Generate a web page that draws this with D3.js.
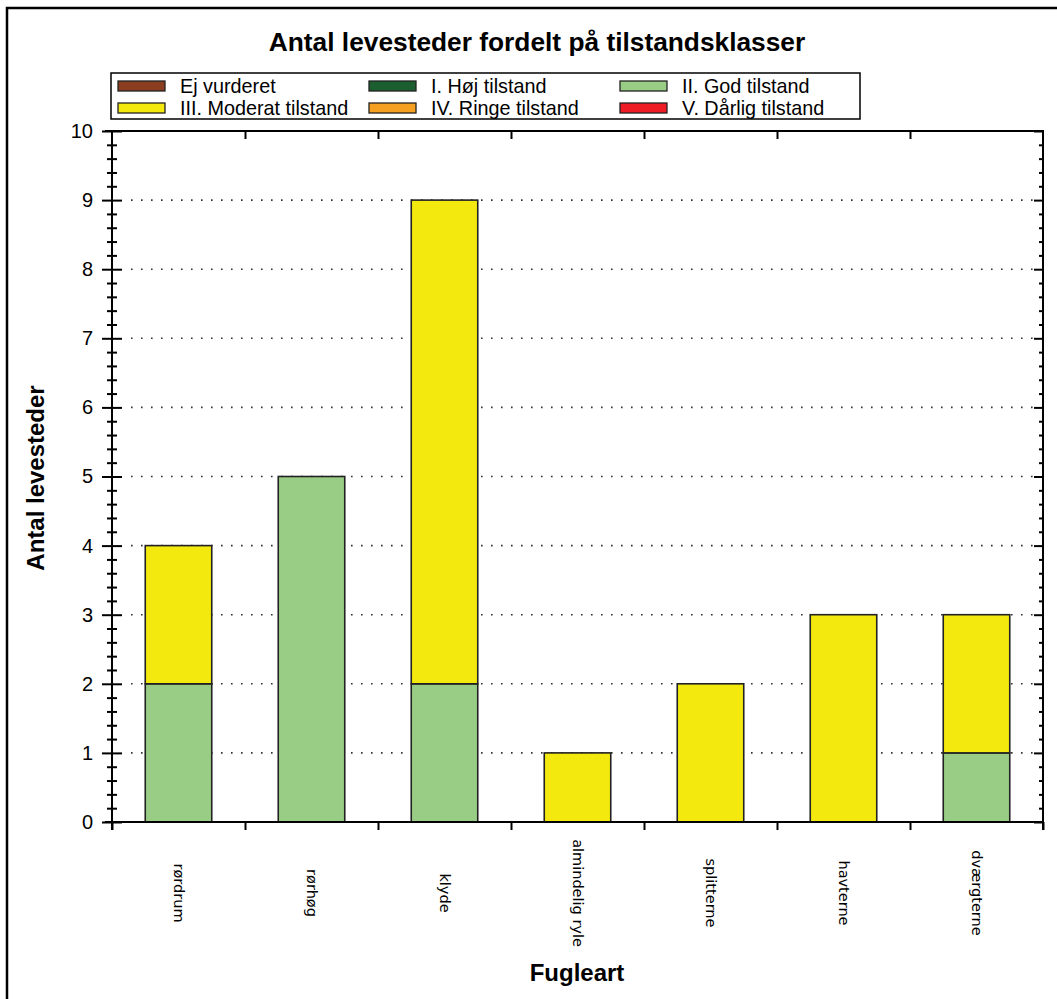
<!DOCTYPE html>
<html><head><meta charset="utf-8">
<script src="https://cdn.jsdelivr.net/npm/d3@7/dist/d3.min.js"></script>
<style>body{margin:0;background:#fff}svg{display:block}</style>
</head><body>
<svg id="c" width="1057" height="999"></svg>
<script>
const categories = ["rørdrum","rørhøg","klyde","almindelig ryle","splitterne","havterne","dværgterne"];
const seriesNames = ["Ej vurderet","I. Høj tilstand","II. God tilstand","III. Moderat tilstand","IV. Ringe tilstand","V. Dårlig tilstand"];
const ejVurderet = [0,0,0,0,0,0,0];
const hoejTilstand = [0,0,0,0,0,0,0];
const godTilstand = [2,5,2,0,0,0,1];
const moderatTilstand = [2,0,7,1,2,3,2];
const ringeTilstand = [0,0,0,0,0,0,0];
const daarligTilstand = [0,0,0,0,0,0,0];
const seriesColors = ["#8B3E1F","#1B5E30","#99CC85","#F3E90F","#F5A020","#EE1C25"];
const yTickValues = [0,1,2,3,4,5,6,7,8,9,10];
const chartTitle = "Antal levesteder fordelt på tilstandsklasser";
const xTitle = "Fugleart";
const yTitle = "Antal levesteder";

const seriesValues = [ejVurderet,hoejTilstand,godTilstand,moderatTilstand,ringeTilstand,daarligTilstand];
const rows = categories.map((c,i)=>{const r={cat:c}; seriesNames.forEach((s,j)=>r[s]=seriesValues[j][i]); return r;});

const L=112, R=1043, T=131, B=822;
const svg = d3.select("#c");
const FONT = "'Liberation Sans', Arial, sans-serif";

// outer border
svg.append("path").attr("d","M7,999 L7,8 L1057,8").attr("fill","none").attr("stroke","#000").attr("stroke-width",2.5);

// title
svg.append("text").attr("x",537).attr("y",51).attr("text-anchor","middle")
  .style("font-family",FONT).style("font-weight","bold").style("font-size","26.3px").text(chartTitle);

const x = d3.scaleBand().domain(categories).range([L,R]).paddingInner(0.5).paddingOuter(0.25);
const xb = d3.scaleLinear().domain([0,categories.length]).range([L,R]);
const y = d3.scaleLinear().domain([0,10]).range([B,T]);

// gridlines
svg.append("g").selectAll("line").data(yTickValues.filter(v=>v>0&&v<10)).join("line")
  .attr("x1",131).attr("x2",1036).attr("y1",d=>y(d)).attr("y2",d=>y(d))
  .attr("stroke","#333").attr("stroke-width",1.6).attr("stroke-dasharray","1.6 8.4");

// bars
const stack = d3.stack().keys(seriesNames)(rows);
svg.append("g").selectAll("g").data(stack).join("g")
  .attr("fill",(d,i)=>seriesColors[i])
  .selectAll("rect").data(d=>d.filter(p=>p[1]-p[0]>0)).join("rect")
  .attr("x",d=>x(d.data.cat)).attr("width",x.bandwidth())
  .attr("y",d=>y(d[1])).attr("height",d=>y(d[0])-y(d[1]))
  .attr("stroke","#222").attr("stroke-width",1.6);

// axes frame lines
const frame = svg.append("g").attr("stroke","#000").attr("stroke-width",2);
frame.append("line").attr("x1",105).attr("x2",R+1).attr("y1",T).attr("y2",T);
frame.append("line").attr("x1",105).attr("x2",R+1).attr("y1",B).attr("y2",B);
frame.append("line").attr("x1",L).attr("x2",L).attr("y1",T).attr("y2",B+8);
frame.append("line").attr("x1",R).attr("x2",R).attr("y1",T).attr("y2",B+8);

function styleAxis(g){ g.select(".domain").remove(); g.selectAll(".tick line").attr("stroke","#000").attr("stroke-width",2); }
const minorVals = d3.range(0,10.001,0.2).filter(v=>Math.abs(v-Math.round(v))>1e-6);

// left axis majors (crossing)
svg.append("g").attr("transform",`translate(${L},0)`)
  .call(d3.axisLeft(y).tickValues(yTickValues).tickSize(10).tickPadding(9).tickFormat(d3.format("d")))
  .call(styleAxis)
  .call(g=>g.selectAll("text").style("font-family",FONT).style("font-size","20px").attr("fill","#000"));
svg.append("g").attr("transform",`translate(${L},0)`)
  .call(d3.axisRight(y).tickValues(yTickValues).tickSize(10).tickFormat(""))
  .call(styleAxis);
// left minors
svg.append("g").attr("transform",`translate(${L},0)`)
  .call(d3.axisLeft(y).tickValues(minorVals).tickSize(5).tickFormat(""))
  .call(styleAxis);
svg.append("g").attr("transform",`translate(${L},0)`)
  .call(d3.axisRight(y).tickValues(minorVals).tickSize(5).tickFormat(""))
  .call(styleAxis);
// right axis ticks (inward)
svg.append("g").attr("transform",`translate(${R},0)`)
  .call(d3.axisLeft(y).tickValues(yTickValues).tickSize(9).tickFormat(""))
  .call(styleAxis);
svg.append("g").attr("transform",`translate(${R},0)`)
  .call(d3.axisLeft(y).tickValues(minorVals).tickSize(4).tickFormat(""))
  .call(styleAxis);

// category boundary ticks bottom & top
const bTicks = d3.range(0,categories.length+1);
svg.append("g").attr("transform",`translate(0,${B})`)
  .call(d3.axisBottom(xb).tickValues(bTicks).tickSize(8).tickFormat(""))
  .call(styleAxis);
svg.append("g").attr("transform",`translate(0,${T})`)
  .call(d3.axisBottom(xb).tickValues(bTicks.slice(1,-1)).tickSize(8).tickFormat(""))
  .call(styleAxis);

// category labels
svg.append("g").selectAll("text").data(categories).join("text")
  .attr("transform",d=>`translate(${x(d)+x.bandwidth()/2},893) rotate(90)`)
  .attr("text-anchor","middle").attr("dominant-baseline","central")
  .style("font-family","'DejaVu Sans', Verdana, sans-serif").style("font-size","14.5px")
  .text(d=>d);

// axis titles
svg.append("text").attr("x",577).attr("y",981).attr("text-anchor","middle")
  .style("font-family",FONT).style("font-weight","bold").style("font-size","24px").text(xTitle);
svg.append("text").attr("transform","translate(44,478) rotate(-90)").attr("text-anchor","middle")
  .style("font-family",FONT).style("font-weight","bold").style("font-size","24px").text(yTitle);

// legend
const lg = svg.append("g");
lg.append("rect").attr("x",111).attr("y",73).attr("width",749).attr("height",46)
  .attr("fill","#fff").attr("stroke","#000").attr("stroke-width",1.5);
const colX = [118,369,620], rowY=[81,103];
const items = lg.selectAll("g.item").data(seriesNames).join("g").attr("class","item")
  .attr("transform",(d,i)=>`translate(${colX[i%3]},${rowY[Math.floor(i/3)]})`);
items.append("rect").attr("width",47).attr("height",10)
  .attr("fill",(d,i)=>seriesColors[i]).attr("stroke","#222").attr("stroke-width",1.3);
items.append("text").attr("x",62).attr("y",12)
  .style("font-family",FONT).style("font-size","19.8px").text(d=>d);
</script>
</body></html>
